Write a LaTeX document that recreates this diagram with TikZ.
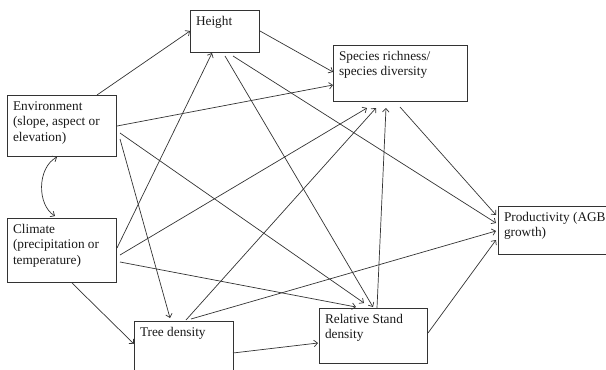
\documentclass[tikz,border=0pt]{standalone}
\usepackage{fontspec}
\setmainfont{Liberation Serif}
\usetikzlibrary{arrows.meta}
\newcommand{\boxtxt}[3]{\parbox[t][#1][t]{#2}{\raggedright\strut #3}}
\begin{document}
\begin{tikzpicture}[x=1pt,y=-1pt,
  box/.style={draw=black!80, line width=0.75pt, anchor=north west, inner xsep=6pt, inner ysep=4.5pt, outer sep=0pt,
    font=\fontsize{13.3}{15.5}\selectfont, text=black!90},
  arr/.style={draw=black!80, line width=0.7pt, -{Straight Barb[length=3.5pt,width=6.5pt]}},
  darr/.style={draw=black!80, line width=0.7pt, {Straight Barb[length=3.5pt,width=6.5pt]}-{Straight Barb[length=3.5pt,width=6.5pt]}}]
\useasboundingbox (0,0) rectangle (606,370);
% boxes
\node[box] (env) at (7,95)  {\boxtxt{52pt}{97pt}{Environment\\(slope, aspect or\\elevation)}};
\node[box] (cli) at (7,218) {\boxtxt{55pt}{97pt}{Climate\\(precipitation or\\temperature)}};
\node[box] (hgt) at (190,10) {\boxtxt{33pt}{57pt}{Height}};
\node[box] (spc) at (333,45) {\boxtxt{47pt}{122pt}{Species richness/\\species diversity}};
\node[box] (tre) at (134,321) {\boxtxt{45pt}{87pt}{Tree density}};
\node[box] (rsd) at (319,308) {\boxtxt{46pt}{96pt}{Relative Stand\\density}};
\node[box] (prd) at (498,206) {\boxtxt{39pt}{104pt}{Productivity (AGB\\growth)}};
% connectors
\draw[arr] ([xshift=90pt,yshift=0pt]env.north west) -- ([xshift=0pt,yshift=-21pt]hgt.north west);
\draw[arr] ([xshift=110pt,yshift=-31pt]env.north west) -- ([xshift=0pt,yshift=-40pt]spc.north west);
\draw[arr] ([xshift=70pt,yshift=-21pt]hgt.north west) -- ([xshift=0pt,yshift=-27pt]spc.north west);
\draw[darr] ([xshift=50pt,yshift=-62pt]env.north west) .. controls (37,168) and (37,205) .. ([xshift=48pt,yshift=2pt]cli.north west);
\draw[arr] ([xshift=113pt,yshift=-44pt]env.north west) -- ([xshift=36pt,yshift=3pt]tre.north west);
\draw[arr] ([xshift=113pt,yshift=-38pt]env.north west) -- ([xshift=45pt,yshift=5pt]rsd.north west);
\draw[arr] ([xshift=110pt,yshift=-30pt]cli.north west) -- ([xshift=22pt,yshift=-43pt]hgt.north west);
\draw[arr] ([xshift=113pt,yshift=-37pt]cli.north west) -- ([xshift=34pt,yshift=-63pt]spc.north west);
\draw[arr] ([xshift=113pt,yshift=-44pt]cli.north west) -- ([xshift=37pt,yshift=1pt]rsd.north west);
\draw[arr] ([xshift=65pt,yshift=-65pt]cli.north west) -- ([xshift=0pt,yshift=-23pt]tre.north west);
\draw[arr] ([xshift=35pt,yshift=-46pt]hgt.north west) -- ([xshift=54pt,yshift=1pt]rsd.north west);
\draw[arr] ([xshift=43pt,yshift=-46pt]hgt.north west) -- ([xshift=-2pt,yshift=-17pt]prd.north west);
\draw[arr] ([xshift=52pt,yshift=1pt]tre.north west) -- ([xshift=43pt,yshift=-63pt]spc.north west);
\draw[arr] ([xshift=57pt,yshift=2pt]tre.north west) -- ([xshift=-2pt,yshift=-25pt]prd.north west);
\draw[arr] ([xshift=99pt,yshift=-32pt]tre.north west) -- ([xshift=-1pt,yshift=-35pt]rsd.north west);
\draw[arr] ([xshift=58pt,yshift=0pt]rsd.north west) -- ([xshift=53pt,yshift=-63pt]spc.north west);
\draw[arr] ([xshift=67pt,yshift=-62pt]spc.north west) -- ([xshift=-2pt,yshift=-9pt]prd.north west);
\draw[arr] ([xshift=109pt,yshift=-25pt]rsd.north west) -- ([xshift=-2pt,yshift=-34pt]prd.north west);
\end{tikzpicture}
\end{document}
